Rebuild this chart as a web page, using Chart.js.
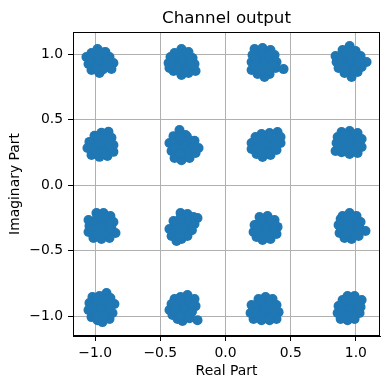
<!DOCTYPE html>
<html lang="en">
<head>
  <meta charset="UTF-8">
  <title>Channel output</title>
  <script src="https://cdn.jsdelivr.net/npm/chart.js"></script>
  <style>
    body { margin: 0; padding: 0; background: #fff; }
    canvas { display: block; }
  </style>
</head>
<body>
  <canvas id="iqChart" width="390" height="389"></canvas>

  <script>
    // received symbols, one line per constellation point
    // (outline of each blob first, then the points filling its middle)
    const realPart = [
      -0.982, -0.921, -1.028, -1.067, -0.890, -0.860, -0.875, -0.967, -1.028, -1.051, -0.967, -0.967, -1.013, -0.921, -0.929, -1.005,
      -0.338, -0.284, -0.391, -0.422, -0.437, -0.253, -0.238, -0.230, -0.284, -0.338, -0.399, -0.430, -0.338, -0.338, -0.384, -0.292, -0.292,
      0.223, 0.284, 0.345, 0.376, 0.391, 0.384, 0.445, 0.338, 0.299, 0.246, 0.200, 0.200, 0.207, 0.284, 0.292, 0.246, 0.338, 0.299,
      0.952, 0.898, 0.998, 1.036, 1.082, 1.044, 1.013, 0.967, 0.913, 0.867, 0.852, 0.844, 0.952, 0.952, 0.898, 1.005, 0.913,
      -0.898, -0.952, -1.005, -1.044, -1.059, -1.028, -0.967, -0.906, -0.860, -0.860, -0.875, -0.959, -0.959, -0.921, -1.005,
      -0.353, -0.307, -0.399, -0.430, -0.414, -0.391, -0.338, -0.276, -0.230, -0.207, -0.238, -0.330, -0.330, -0.284, -0.376,
      0.399, 0.338, 0.276, 0.230, 0.200, 0.200, 0.238, 0.284, 0.345, 0.391, 0.422, 0.422, 0.307, 0.307, 0.361, 0.253,
      0.890, 0.952, 1.013, 1.044, 1.044, 1.013, 0.952, 0.890, 0.844, 0.852, 0.860, 0.944, 0.944, 0.998, 0.898,
      -0.990, -0.936, -0.883, -0.860, -0.875, -0.844, -0.890, -0.952, -1.013, -1.051, -1.044, -1.051, -0.959, -0.959, -0.913, -1.005,
      -0.345, -0.292, -0.246, -0.215, -0.238, -0.269, -0.292, -0.338, -0.376, -0.414, -0.430, -0.399, -0.322, -0.330, -0.368, -0.284,
      0.261, 0.322, 0.376, 0.399, 0.391, 0.345, 0.284, 0.238, 0.215, 0.223, 0.307, 0.307, 0.261, 0.353,
      0.952, 0.898, 1.005, 1.036, 1.028, 1.074, 1.021, 0.967, 0.913, 0.875, 0.867, 0.883, 0.952, 0.952, 0.913, 0.998,
      -0.913, -0.967, -1.021, -1.044, -1.051, -1.028, -0.982, -0.944, -0.890, -0.867, -0.852, -0.883, -0.959, -0.959, -0.913, -1.005,
      -0.292, -0.345, -0.391, -0.414, -0.430, -0.407, -0.368, -0.330, -0.276, -0.215, -0.261, -0.230, -0.238, -0.330, -0.330, -0.284, -0.376,
      0.307, 0.253, 0.361, 0.391, 0.407, 0.391, 0.338, 0.276, 0.215, 0.192, 0.200, 0.299, 0.299, 0.345, 0.246,
      0.936, 0.990, 1.044, 1.036, 1.028, 0.990, 0.936, 0.883, 0.860, 0.867, 0.898, 0.952, 0.952, 0.998, 0.906,
      -1.012, -0.922, -0.967, -0.967, -0.999, -0.935, -0.999, -0.935, -0.967, -0.903, -0.903, -1.031, -1.031, -0.941, -0.941, -0.993, -0.993,
      -0.383, -0.293, -0.338, -0.338, -0.370, -0.306, -0.370, -0.306, -0.338, -0.274, -0.274, -0.402, -0.402, -0.312, -0.312, -0.364, -0.364,
      0.254, 0.344, 0.299, 0.299, 0.267, 0.331, 0.267, 0.331, 0.299, 0.363, 0.363, 0.235, 0.235, 0.325, 0.325, 0.273, 0.273,
      0.907, 0.997, 0.952, 0.952, 0.920, 0.984, 0.920, 0.984, 0.952, 1.016, 1.016, 0.888, 0.888, 0.978, 0.978, 0.926, 0.926,
      -1.004, -0.914, -0.959, -0.959, -0.991, -0.927, -0.991, -0.927, -0.959, -0.895, -0.895, -1.023, -1.023, -0.933, -0.933, -0.985, -0.985,
      -0.367, -0.277, -0.322, -0.322, -0.354, -0.290, -0.354, -0.290, -0.322, -0.258, -0.258, -0.386, -0.386, -0.296, -0.296, -0.348, -0.348,
      0.262, 0.352, 0.307, 0.307, 0.275, 0.339, 0.275, 0.339, 0.307, 0.371, 0.371, 0.243, 0.243, 0.333, 0.333, 0.281, 0.281,
      0.899, 0.989, 0.944, 0.944, 0.912, 0.976, 0.912, 0.976, 0.944, 1.008, 1.008, 0.880, 0.880, 0.970, 0.970, 0.918, 0.918,
      -1.004, -0.914, -0.959, -0.959, -0.991, -0.927, -0.991, -0.927, -0.959, -0.895, -0.895, -1.023, -1.023, -0.933, -0.933, -0.985, -0.985,
      -0.367, -0.277, -0.322, -0.322, -0.354, -0.290, -0.354, -0.290, -0.322, -0.258, -0.258, -0.386, -0.386, -0.296, -0.296, -0.348, -0.348,
      0.262, 0.352, 0.307, 0.307, 0.275, 0.339, 0.275, 0.339, 0.307, 0.371, 0.371, 0.243, 0.243, 0.333, 0.333, 0.281, 0.281,
      0.907, 0.997, 0.952, 0.952, 0.920, 0.984, 0.920, 0.984, 0.952, 1.016, 1.016, 0.888, 0.888, 0.978, 0.978, 0.926, 0.926,
      -1.004, -0.914, -0.959, -0.959, -0.991, -0.927, -0.991, -0.927, -0.959, -0.895, -0.895, -1.023, -1.023, -0.933, -0.933, -0.985, -0.985,
      -0.367, -0.277, -0.322, -0.322, -0.354, -0.290, -0.354, -0.290, -0.322, -0.258, -0.258, -0.386, -0.386, -0.296, -0.296, -0.348, -0.348,
      0.254, 0.344, 0.299, 0.299, 0.267, 0.331, 0.267, 0.331, 0.299, 0.363, 0.363, 0.235, 0.235, 0.325, 0.325, 0.273, 0.273,
      0.907, 0.997, 0.952, 0.952, 0.920, 0.984, 0.920, 0.984, 0.952, 1.016, 1.016, 0.888, 0.888, 0.978, 0.978, 0.926, 0.926
    ];
    const imagPart = [
      1.038, 1.015, 1.008, 0.977, 0.977, 0.931, 0.886, 0.855, 0.878, 0.924, 0.970, 0.909, 0.947, 0.931, 0.893, 0.901,
      1.038, 1.015, 1.008, 0.977, 0.931, 0.970, 0.924, 0.870, 0.855, 0.840, 0.870, 0.893, 0.970, 0.909, 0.939, 0.931, 0.893,
      1.038, 1.046, 1.030, 0.992, 0.939, 0.893, 0.885, 0.848, 0.825, 0.848, 0.878, 0.939, 0.992, 0.985, 0.924, 0.931, 0.939, 0.878,
      1.061, 1.030, 1.023, 0.985, 0.939, 0.901, 0.863, 0.825, 0.855, 0.893, 0.939, 0.985, 0.970, 0.909, 0.947, 0.939, 0.992,
      0.407, 0.399, 0.376, 0.330, 0.284, 0.231, 0.216, 0.223, 0.254, 0.307, 0.361, 0.330, 0.269, 0.300, 0.284,
      0.420, 0.382, 0.374, 0.321, 0.260, 0.207, 0.191, 0.207, 0.246, 0.284, 0.338, 0.321, 0.260, 0.300, 0.284,
      0.405, 0.397, 0.390, 0.367, 0.322, 0.276, 0.238, 0.215, 0.230, 0.268, 0.322, 0.367, 0.345, 0.283, 0.314, 0.306,
      0.405, 0.413, 0.397, 0.352, 0.291, 0.245, 0.238, 0.252, 0.261, 0.322, 0.367, 0.345, 0.291, 0.322, 0.306,
      -0.212, -0.212, -0.235, -0.281, -0.326, -0.364, -0.402, -0.410, -0.402, -0.357, -0.311, -0.265, -0.265, -0.341, -0.303, -0.311,
      -0.212, -0.220, -0.243, -0.250, -0.296, -0.341, -0.387, -0.410, -0.425, -0.387, -0.334, -0.273, -0.281, -0.341, -0.334, -0.296,
      -0.242, -0.235, -0.265, -0.318, -0.372, -0.410, -0.418, -0.395, -0.357, -0.303, -0.296, -0.357, -0.326, -0.326,
      -0.212, -0.235, -0.235, -0.281, -0.326, -0.349, -0.387, -0.410, -0.402, -0.364, -0.303, -0.258, -0.281, -0.341, -0.318, -0.311,
      -0.822, -0.845, -0.853, -0.899, -0.952, -1.006, -1.029, -1.044, -1.021, -0.975, -0.906, -0.861, -0.906, -0.968, -0.929, -0.937,
      -0.837, -0.853, -0.868, -0.906, -0.952, -0.990, -1.021, -1.036, -1.014, -1.029, -0.968, -0.922, -0.868, -0.914, -0.968, -0.937, -0.952,
      -0.853, -0.868, -0.868, -0.914, -0.968, -1.021, -1.029, -1.029, -1.021, -0.975, -0.914, -0.914, -0.975, -0.952, -0.952,
      -0.845, -0.845, -0.876, -0.929, -0.975, -1.021, -1.029, -1.021, -0.975, -0.922, -0.876, -0.914, -0.968, -0.945, -0.952,
      0.947, 0.947, 0.992, 0.902, 0.979, 0.979, 0.915, 0.915, 0.947, 0.973, 0.921, 0.973, 0.921, 1.011, 0.883, 1.011, 0.883,
      0.939, 0.939, 0.984, 0.894, 0.971, 0.971, 0.907, 0.907, 0.939, 0.965, 0.913, 0.965, 0.913, 1.003, 0.875, 1.003, 0.875,
      0.939, 0.939, 0.984, 0.894, 0.971, 0.971, 0.907, 0.907, 0.939, 0.965, 0.913, 0.965, 0.913, 1.003, 0.875, 1.003, 0.875,
      0.947, 0.947, 0.992, 0.902, 0.979, 0.979, 0.915, 0.915, 0.947, 0.973, 0.921, 0.973, 0.921, 1.011, 0.883, 1.011, 0.883,
      0.307, 0.307, 0.352, 0.262, 0.339, 0.339, 0.275, 0.275, 0.307, 0.333, 0.281, 0.333, 0.281, 0.371, 0.243, 0.371, 0.243,
      0.307, 0.307, 0.352, 0.262, 0.339, 0.339, 0.275, 0.275, 0.307, 0.333, 0.281, 0.333, 0.281, 0.371, 0.243, 0.371, 0.243,
      0.314, 0.314, 0.359, 0.269, 0.346, 0.346, 0.282, 0.282, 0.314, 0.340, 0.288, 0.340, 0.288, 0.378, 0.250, 0.378, 0.250,
      0.322, 0.322, 0.367, 0.277, 0.354, 0.354, 0.290, 0.290, 0.322, 0.348, 0.296, 0.348, 0.296, 0.386, 0.258, 0.386, 0.258,
      -0.311, -0.311, -0.266, -0.356, -0.279, -0.279, -0.343, -0.343, -0.311, -0.285, -0.337, -0.285, -0.337, -0.247, -0.375, -0.247, -0.375,
      -0.318, -0.318, -0.273, -0.363, -0.286, -0.286, -0.350, -0.350, -0.318, -0.292, -0.344, -0.292, -0.344, -0.254, -0.382, -0.254, -0.382,
      -0.326, -0.326, -0.281, -0.371, -0.294, -0.294, -0.358, -0.358, -0.326, -0.300, -0.352, -0.300, -0.352, -0.262, -0.390, -0.262, -0.390,
      -0.311, -0.311, -0.266, -0.356, -0.279, -0.279, -0.343, -0.343, -0.311, -0.285, -0.337, -0.285, -0.337, -0.247, -0.375, -0.247, -0.375,
      -0.937, -0.937, -0.892, -0.982, -0.905, -0.905, -0.969, -0.969, -0.937, -0.911, -0.963, -0.911, -0.963, -0.873, -1.001, -0.873, -1.001,
      -0.937, -0.937, -0.892, -0.982, -0.905, -0.905, -0.969, -0.969, -0.937, -0.911, -0.963, -0.911, -0.963, -0.873, -1.001, -0.873, -1.001,
      -0.945, -0.945, -0.900, -0.990, -0.913, -0.913, -0.977, -0.977, -0.945, -0.919, -0.971, -0.919, -0.971, -0.881, -1.009, -0.881, -1.009,
      -0.937, -0.937, -0.892, -0.982, -0.905, -0.905, -0.969, -0.969, -0.937, -0.911, -0.963, -0.911, -0.963, -0.873, -1.001, -0.873, -1.001
    ];
    const tickValues = [-1.0, -0.5, 0.0, 0.5, 1.0];
    const xRange = [-1.17, 1.185];
    const yRange = [-1.15, 1.168];
    const chartTitle = 'Channel output';

    const points = realPart.map((x, i) => ({ x: x, y: imagPart[i] }));

    function fmt(v) {
      return (v < 0 ? '\u2212' : '') + Math.abs(v).toFixed(1);
    }

    // matplotlib draws a box round the axes and centres the title over it
    const frame = {
      id: 'frame',
      afterDraw(chart) {
        const a = chart.chartArea, ctx = chart.ctx;
        ctx.save();
        ctx.strokeStyle = '#000';
        ctx.lineWidth = 1;
        ctx.strokeRect(Math.round(a.left) + 0.5, Math.round(a.top) + 0.5,
          Math.round(a.right - a.left) - 1, Math.round(a.bottom - a.top) - 1);
        ctx.fillStyle = '#000';
        ctx.font = "16.7px 'DejaVu Sans', sans-serif";
        ctx.textAlign = 'center';
        ctx.textBaseline = 'middle';
        ctx.fillText(chartTitle, (a.left + a.right) / 2, 19);
        ctx.restore();
      }
    };

    const font = { family: "'DejaVu Sans', sans-serif", size: 13.9 };

    new Chart(document.getElementById('iqChart'), {
      type: 'scatter',
      data: {
        datasets: [{
          data: points,
          backgroundColor: '#1f77b4',
          borderColor: '#1f77b4',
          borderWidth: 0,
          pointBorderWidth: 0,
          pointRadius: 5,
          pointHoverRadius: 5
        }]
      },
      options: {
        responsive: false,
        animation: false,
        devicePixelRatio: 1,
        layout: { padding: { left: 0, right: 10, top: 32, bottom: 0 } },
        plugins: {
          legend: { display: false },
          tooltip: { enabled: false },
          title: { display: false }
        },
        scales: {
          x: {
            type: 'linear',
            min: xRange[0],
            max: xRange[1],
            z: 1,
            afterBuildTicks: s => { s.ticks = tickValues.map(v => ({ value: v })); },
            afterFit: s => { s.height = 53; },
            ticks: { callback: v => fmt(v), color: '#000', font: font, padding: 4, maxRotation: 0 },
            grid: { color: '#b0b0b0', lineWidth: 1, tickColor: '#000', tickLength: 5, tickWidth: 1 },
            border: { color: '#000', width: 1 },
            title: { display: true, text: 'Real Part', color: '#000', font: font, padding: { top: 0, bottom: 9 } }
          },
          y: {
            type: 'linear',
            min: yRange[0],
            max: yRange[1],
            z: 1,
            afterBuildTicks: s => { s.ticks = tickValues.map(v => ({ value: v })); },
            afterFit: s => { s.width = 73; },
            ticks: { callback: v => fmt(v), color: '#000', font: font, padding: 5 },
            grid: { color: '#b0b0b0', lineWidth: 1, tickColor: '#000', tickLength: 5, tickWidth: 1 },
            border: { color: '#000', width: 1 },
            title: { display: true, text: 'Imaginary Part', color: '#000', font: font, padding: { top: 7, bottom: 0 } }
          }
        }
      },
      plugins: [frame]
    });
  </script>
</body>
</html>
